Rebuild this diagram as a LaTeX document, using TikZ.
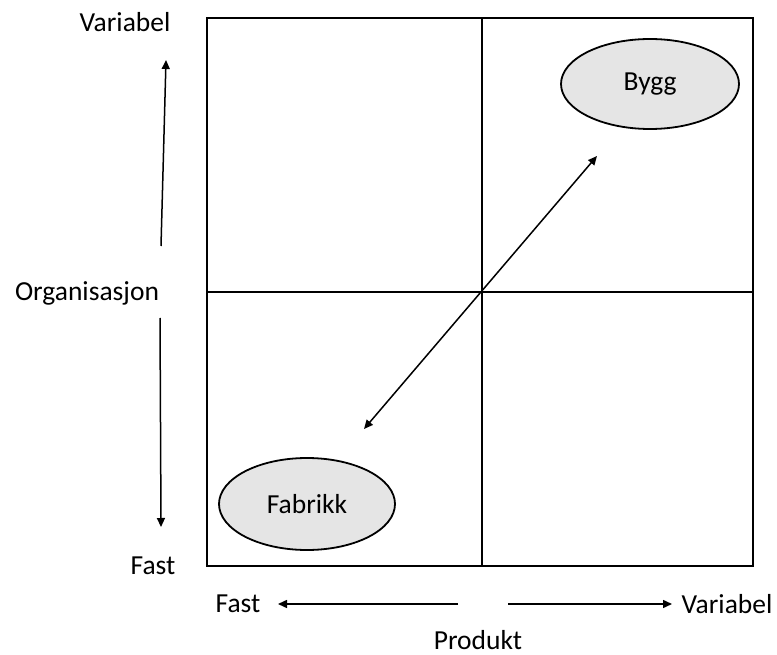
\documentclass[tikz,border=0pt]{standalone}
\usepackage{fontspec}
\setmainfont{Carlito}
\usetikzlibrary{arrows.meta}
\begin{document}
\begin{tikzpicture}[x=1pt,y=-1pt,
  frame/.style={draw=black,line width=2pt},
  lbl/.style={font=\fontsize{27.5}{30}\selectfont,inner sep=0pt},
  arr/.style={line width=1.5pt,-{Triangle[length=9pt,width=8pt]}},
  darr/.style={line width=1.5pt,{Triangle[length=9pt,width=8pt]}-{Triangle[length=9pt,width=8pt]}}]
\useasboundingbox (0,0) rectangle (777,655);

% quadrant grid
\draw[frame] (207,18) rectangle (753,566);
\draw[frame] (482,18) -- (482,566);
\draw[frame] (207,292) -- (753,292);

% the two positions
\draw[line width=1.8pt,fill=black!10] (650,84) ellipse [x radius=89, y radius=45];
\node[lbl] (bygg) at (650,84) {Bygg};
\draw[line width=1.8pt,fill=black!10] (307,504) ellipse [x radius=88, y radius=46];
\node[lbl] (fabrikk) at (307,504) {Fabrikk};

% diagonal trend
\coordinate (dlo) at (364,429);
\coordinate (dhi) at (597,156);
\draw[darr] (dlo) -- (dhi);

% organisation axis
\node[lbl] (ovar) at (125,22) {Variabel};
\node[lbl] (org) at (87,293) {Organisasjon};
\node[lbl] (ofast) at (153,566) {Fast};
\coordinate (o1s) at (161,246);
\coordinate (o1e) at (166,60);
\coordinate (o2s) at (160,318);
\coordinate (o2e) at (161,527);
\draw[arr] (o1s) -- (o1e);
\draw[arr] (o2s) -- (o2e);

% product axis
\node[lbl] (pfast) at (238,604) {Fast};
\node[lbl] (pvar) at (727,604) {Variabel};
\node[lbl] (prod) at (478,640) {Produkt};
\coordinate (p1s) at (458,604);
\coordinate (p1e) at (278,604);
\coordinate (p2s) at (508,604);
\coordinate (p2e) at (672,604);
\draw[arr] (p1s) -- (p1e);
\draw[arr] (p2s) -- (p2e);
\end{tikzpicture}
\end{document}
